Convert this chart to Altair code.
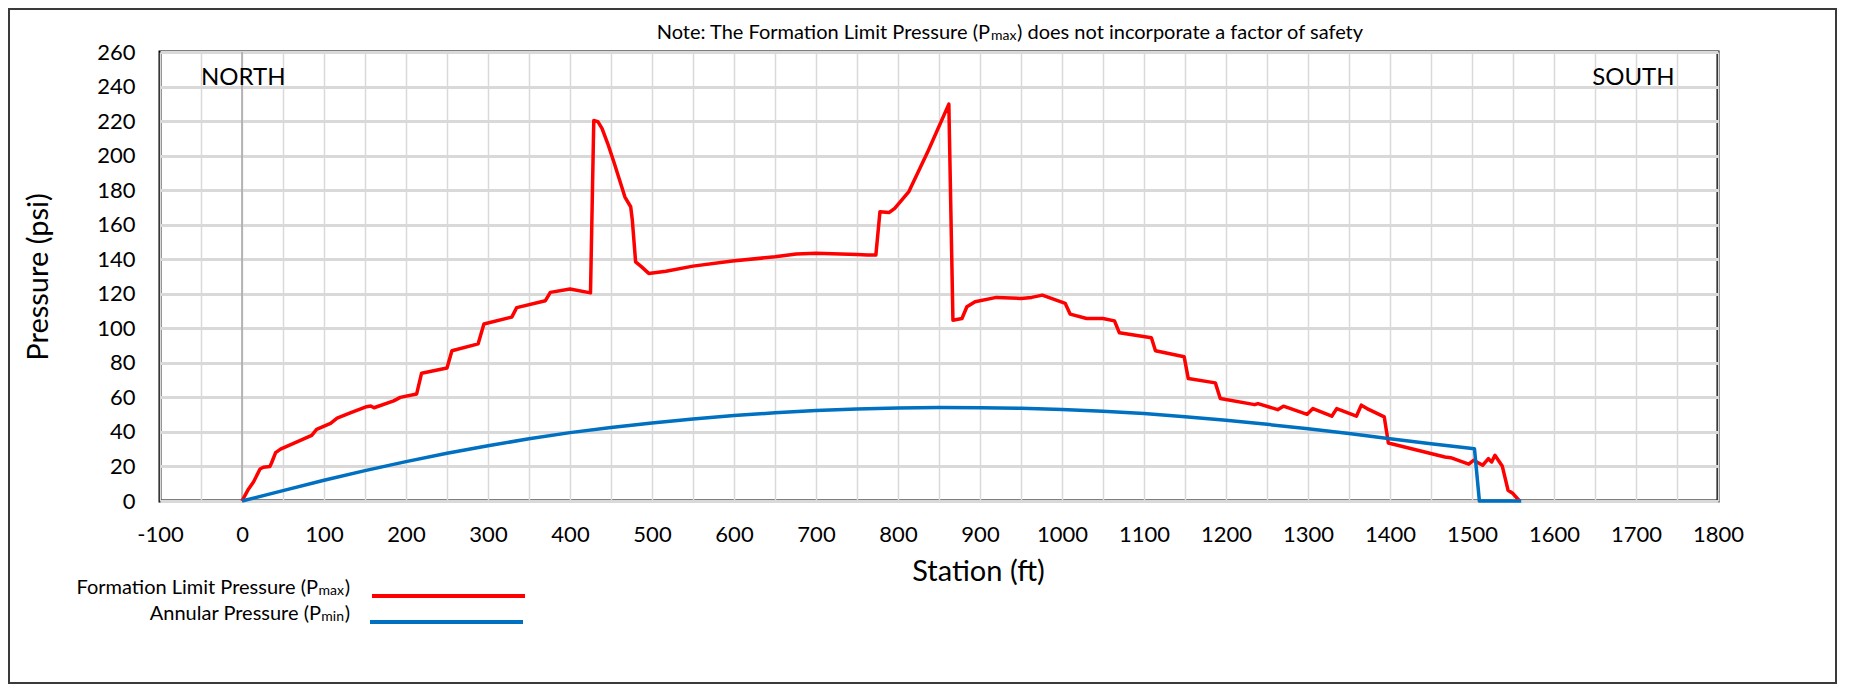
import altair as alt
import pandas as pd

# ---------------- data ----------------
stations_fl = [0, 8, 14, 22, 26, 34, 36, 41, 47, 85,
               91, 108, 116, 132, 152, 157, 161, 185, 193, 213,
               219, 250, 256, 288, 295, 329, 335, 370, 376, 400,
               425, 429, 434, 439, 446, 454, 467, 474, 476, 480,
               487, 496, 517, 550, 598, 650, 676, 700, 750, 763,
               773, 778, 789, 796, 813, 837, 862, 867, 878, 884,
               894, 920, 950, 963, 976, 1004, 1010, 1030, 1050, 1064,
               1070, 1109, 1114, 1149, 1154, 1187, 1193, 1235, 1239, 1263,
               1270, 1299, 1306, 1329, 1335, 1359, 1365, 1372, 1393, 1398,
               1430, 1467, 1474, 1496, 1502, 1513, 1520, 1524, 1528, 1537,
               1544, 1550, 1558]
pressure_fl = [0, 7, 11, 18.5, 19.5, 20, 22, 28, 30, 38,
               41.5, 45, 48, 51, 54.6, 55, 54, 58, 60, 62,
               74, 77, 87, 91, 102.5, 106.5, 112, 116, 120.8, 122.8,
               120.5, 220.3, 219.7, 215.8, 207, 195.6, 176, 170.4, 162.7, 138.5,
               135.7, 131.8, 133, 136, 139, 141.4, 143, 143.4, 142.8, 142.4,
               142.4, 167.5, 167, 169.5, 179, 203, 229.8, 104.7, 105.7, 112.5,
               115.4, 117.9, 117.3, 117.9, 119.2, 114.4, 108.2, 105.7, 105.7, 104.3,
               97.4, 94.5, 87, 83.5, 70.9, 68.4, 59.3, 55.8, 56.4, 52.9,
               54.9, 50.2, 53.5, 49.1, 53.5, 49.1, 55.5, 53.5, 48.7, 33.6,
               29.8, 25.5, 25.1, 21.3, 23.6, 20.7, 24.5, 22.6, 26.5, 20.1,
               6.2, 4.3, 0]

stations_ap = [0, 50, 100, 150, 200, 250, 300, 350, 400, 450,
               500, 550, 600, 650, 700, 750, 800, 850, 900, 950,
               1000, 1050, 1100, 1150, 1200, 1250, 1300, 1350, 1400, 1450,
               1503, 1509, 1560]
pressure_ap = [0, 6, 12, 17.6, 22.8, 27.6, 32, 36, 39.6, 42.6,
               45.2, 47.5, 49.5, 51.1, 52.4, 53.3, 53.9, 54.1, 54, 53.7,
               53, 52, 50.6, 48.8, 46.7, 44.4, 41.9, 39.1, 36.1, 33.2,
               30.3, 0, 0]

x_ticks = list(range(-100, 1801, 50))
y_ticks = list(range(0, 261, 20))
zero_line = [0]

north_label, north_x, north_y = "NORTH", -50, 245
south_label, south_x, south_y = "SOUTH", 1747, 245

title_parts = ["Note: The Formation Limit Pressure (P", "max",
               ") does not incorporate a factor of safety"]
legend_fl = ["Formation Limit Pressure (P", "max", ")"]
legend_ap = ["Annular Pressure (P", "min", ")"]

RED = "#ff0000"
BLUE = "#0070c0"
FONT = "Lato"

W, H = 1558, 449

df_fl = pd.DataFrame({"station": stations_fl, "pressure": pressure_fl})
df_ap = pd.DataFrame({"station": stations_ap, "pressure": pressure_ap})
df_zero = pd.DataFrame({"station": zero_line})
df_north = pd.DataFrame({"label": [north_label], "station": [north_x], "pressure": [north_y]})
df_south = pd.DataFrame({"label": [south_label], "station": [south_x], "pressure": [south_y]})
one = pd.DataFrame({"k": [0]})

xscale = alt.Scale(domain=[-100, 1800], nice=False, zero=False)
yscale = alt.Scale(domain=[0, 260], nice=False)

x_axis = alt.Axis(
    values=x_ticks,
    labelExpr="datum.value % 100 === 0 ? toString(datum.value) : ''",
    grid=True, gridColor="#d9d9d9", gridWidth=1.5,
    ticks=False, domain=False, labelOverlap=False, labelFlush=False,
    labelFont=FONT, labelFontSize=22, labelColor="black", labelPadding=23,
    title="Station (ft)", titleFont=FONT, titleFontSize=29,
    titleFontWeight="normal", titleColor="black",
    titleX=818, titleY=70, titleAlign="center", titleBaseline="middle",
)
y_axis = alt.Axis(
    values=y_ticks, format="d",
    grid=True, gridColor="#d9d9d9", gridWidth=3,
    ticks=False, domain=False, labelOverlap=False, labelFlush=False,
    labelFont=FONT, labelFontSize=22, labelColor="black", labelPadding=25,
    title="Pressure (psi)", titleFont=FONT, titleFontSize=29,
    titleFontWeight="normal", titleColor="black",
    titleX=-122, titleY=H / 2, titleAngle=270, titleAlign="center",
    titleBaseline="middle",
)

X = alt.X("station:Q", scale=xscale, axis=x_axis)
Y = alt.Y("pressure:Q", scale=yscale, axis=y_axis)

zero_rule = alt.Chart(df_zero).mark_rule(color="#a6a6a6", strokeWidth=1.5).encode(x=X)

red_line = alt.Chart(df_fl).mark_line(color=RED, strokeWidth=3.5,
                                      strokeJoin="round").encode(x=X, y=Y)
blue_line = alt.Chart(df_ap).mark_line(color=BLUE, strokeWidth=3.5,
                                       strokeJoin="round").encode(x=X, y=Y)

north_text = alt.Chart(df_north).mark_text(font=FONT, fontSize=24, color="black",
                                           baseline="middle", align="left").encode(
    x=X, y=Y, text="label:N")
south_text = alt.Chart(df_south).mark_text(font=FONT, fontSize=24, color="black",
                                           baseline="middle", align="right").encode(
    x=X, y=Y, text="label:N")


def txt(s, x, y, size, align):
    return alt.Chart(pd.DataFrame({"t": [s]})).mark_text(
        font=FONT, fontSize=size, color="black", align=align, baseline="middle"
    ).encode(text="t:N", x=alt.value(x), y=alt.value(y))


# title (P with small "max")
TX = 830
title_layers = [
    txt(title_parts[0], TX, -19, 20, "right"),
    txt(title_parts[1], TX + 1, -16, 14, "left"),
    txt(title_parts[2], TX + 27, -19, 20, "left"),
]

# legend
LX = 190
legend_layers = [
    txt(legend_fl[2], LX, 536, 20, "right"),
    txt(legend_fl[1], LX - 6, 539, 14, "right"),
    txt(legend_fl[0], LX - 32, 536, 20, "right"),
    txt(legend_ap[2], LX, 562, 20, "right"),
    txt(legend_ap[1], LX - 6, 565, 14, "right"),
    txt(legend_ap[0], LX - 29, 562, 20, "right"),
    alt.Chart(one).mark_rule(color=RED, strokeWidth=4).encode(
        x=alt.value(212), x2=alt.value(365), y=alt.value(544)),
    alt.Chart(one).mark_rule(color=BLUE, strokeWidth=4).encode(
        x=alt.value(210), x2=alt.value(363), y=alt.value(570)),
]

frame = alt.Chart(one).mark_rect(fill=None, stroke="#3a3a3a", strokeWidth=2).encode(
    x=alt.value(-151), x2=alt.value(1676), y=alt.value(-43), y2=alt.value(631)
)

chart = alt.layer(
    zero_rule, red_line, blue_line, north_text, south_text,
    *title_layers, *legend_layers, frame
).properties(
    width=W, height=H,
    autosize=alt.AutoSizeParams(type="none"),
    padding={"left": 152, "top": 44, "right": 120, "bottom": 183},
    background="white",
).configure(font=FONT).configure_view(stroke="black", strokeWidth=3)

chart.save("out.html", embed_options={"renderer": "svg", "actions": False})
